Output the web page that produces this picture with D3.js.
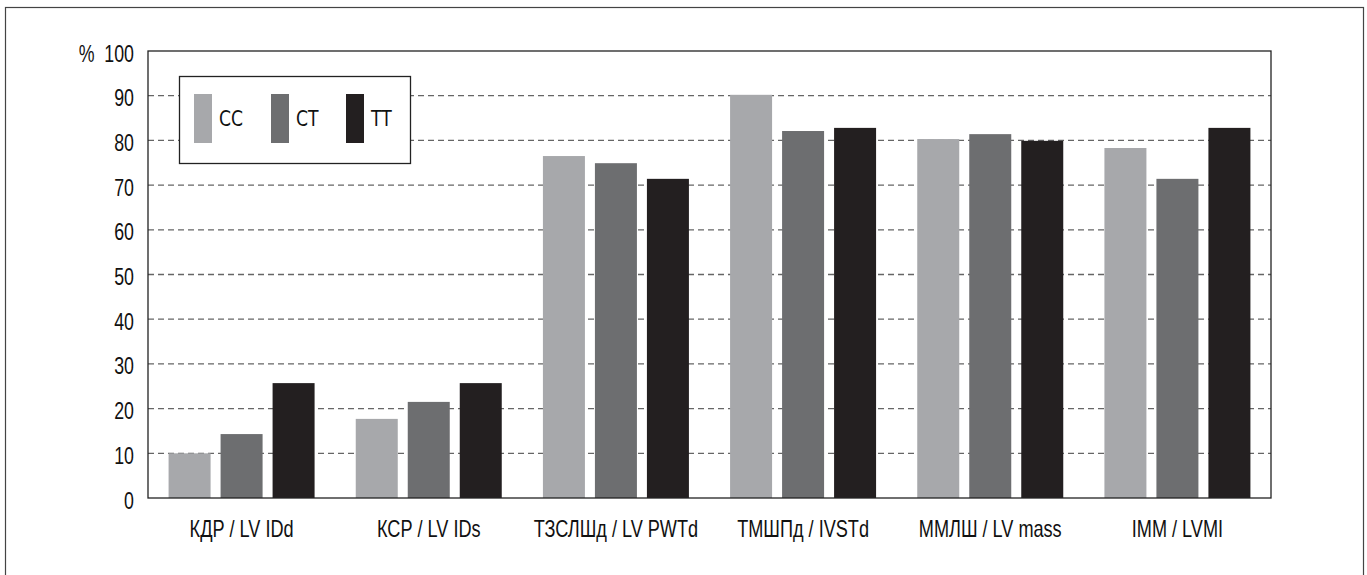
<!DOCTYPE html>
<html><head><meta charset="utf-8">
<script src="https://cdn.jsdelivr.net/npm/d3@7"></script>
<style>body{margin:0;background:#fff}text{font-family:"Liberation Sans",Arial,sans-serif}</style>
</head><body>
<svg id="c" width="1367" height="575"></svg>
<script>
const categories = ["КДР / LV IDd","КСР / LV IDs","ТЗСЛШд / LV PWTd","ТМШПд / IVSTd","ММЛШ / LV mass","IММ / LVMI"];
const seriesNames = ["CC","CT","TT"];
const CC = [10, 17.7, 76.5, 90.2, 80.3, 78.3];
const CT = [14.3, 21.5, 74.9, 82.1, 81.4, 71.4];
const TT = [25.7, 25.7, 71.4, 82.8, 79.9, 82.8];
const yTicks = [0,10,20,30,40,50,60,70,80,90,100];
const colors = ["#a7a8ab","#6d6e70","#231f20"];

const svg = d3.select("#c");
svg.append("rect").attr("x",5.5).attr("y",7.5).attr("width",1358).attr("height",580)
  .attr("fill","none").attr("stroke","#444").attr("stroke-width",1.2);

const L=148,T=51,R=1271,B=498;
const y = d3.scaleLinear().domain([0,100]).range([B,T]);
const x0 = d3.scaleBand().domain(categories).range([L,R]);
const x1 = d3.scaleBand().domain(seriesNames).range([0,146]).paddingInner(10/52).paddingOuter(0);

// grid
svg.append("g").selectAll("line").data(yTicks.filter(d=>d>0&&d<100)).join("line")
  .attr("x1",L).attr("x2",R).attr("y1",d=>y(d)).attr("y2",d=>y(d))
  .attr("stroke","#666").attr("stroke-width",1.3).attr("stroke-dasharray","6,4");

const data = categories.map((c,i)=>({c, vals:[CC[i],CT[i],TT[i]]}));
const g = svg.append("g");
data.forEach(d=>{
  const cx = x0(d.c)+x0.bandwidth()/2 - 73;
  g.selectAll(null).data(d.vals.map((v,j)=>({v,s:seriesNames[j],j}))).join("rect")
    .attr("x",e=>cx+x1(e.s)).attr("width",x1.bandwidth())
    .attr("y",e=>y(e.v)).attr("height",e=>B-y(e.v)).attr("fill",e=>colors[e.j]);
});

svg.append("rect").attr("x",L).attr("y",T).attr("width",R-L).attr("height",B-T)
  .attr("fill","none").attr("stroke","#222").attr("stroke-width",1.3);

const SX=0.74;
// y axis labels
const yAxis = d3.axisLeft(y).tickValues(yTicks).tickSize(0).tickPadding(14)
  .tickFormat(d=>d===100?"%\u00a0\u00a0100":d);
const ya = svg.append("g").attr("transform",`translate(${L},0)`).call(yAxis);
ya.select(".domain").remove();
ya.selectAll("text").attr("font-size",24).attr("fill","#111")
  .attr("x",-14/SX).attr("dy","0.42em").attr("transform",`scale(${SX},1)`)
  .style("font-family",'"Liberation Sans",Arial,sans-serif');

// x axis labels
const xAxis = d3.axisBottom(x0).tickSize(0).tickPadding(22);
const xa = svg.append("g").attr("transform",`translate(0,${B})`).call(xAxis);
xa.select(".domain").remove();
xa.selectAll("text").attr("font-size",24).attr("fill","#111")
  .attr("transform","scale(0.755,1)")
  .style("font-family",'"Liberation Sans",Arial,sans-serif');

// legend
const lg = svg.append("g");
lg.append("rect").attr("x",179.5).attr("y",76.5).attr("width",231).attr("height",87)
  .attr("fill","#fff").attr("stroke","#222").attr("stroke-width",1.3);
const legX=[194,271,346];
seriesNames.forEach((s,i)=>{
  lg.append("rect").attr("x",legX[i]).attr("y",94).attr("width",18).attr("height",49).attr("fill",colors[i]);
  lg.append("text").attr("transform",`translate(${legX[i]+25},126) scale(0.8,1)`)
    .attr("font-size",21.5).attr("fill","#111")
    .style("font-family",'"DejaVu Sans",sans-serif').text(s);
});
</script>
</body></html>
